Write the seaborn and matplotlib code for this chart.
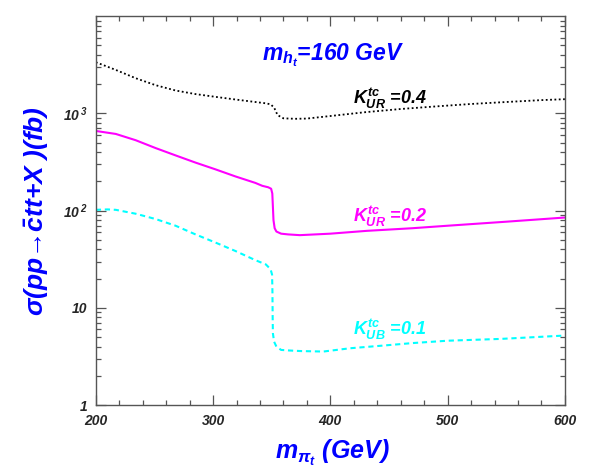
import matplotlib
matplotlib.use("Agg")
import matplotlib.pyplot as plt
import matplotlib.ticker as mticker
import seaborn as sns

# values (x in GeV, sigma in fb)
mpi_04 = [200, 217, 234, 251, 268, 285, 302, 319, 336, 345, 349, 352, 355, 360,
          370, 380, 400, 430, 460, 490, 520, 550, 580, 600]
sig_04 = [3360, 2800, 2300, 1950, 1720, 1580, 1480, 1390, 1310, 1270, 1240, 1150, 960, 890,
          880, 885, 940, 1030, 1110, 1180, 1250, 1310, 1370, 1400]

mpi_02 = [200, 217, 234, 251, 268, 285, 302, 319, 336, 342, 347, 349.5, 350.5, 351,
          351.5, 352.5, 354, 358, 364, 374, 400, 431, 470, 500, 550, 600]
sig_02 = [660, 615, 530, 440, 370, 312, 266, 225, 193, 180, 174, 168, 150, 110,
          80, 66, 61, 58, 57, 56, 58, 62, 66, 70, 77, 85]

mpi_01 = [200, 210, 217, 234, 251, 268, 285, 302, 319, 336, 345, 349, 350.3, 350.6,
          350.8, 351, 352, 354, 358, 365, 375, 394, 417, 445, 470, 500, 545, 580, 600]
sig_01 = [102, 103, 102, 93, 82, 70, 57, 47, 38.5, 31, 28, 25, 22, 15,
          8, 5.5, 4.5, 4.0, 3.7, 3.65, 3.6, 3.56, 3.85, 4.1, 4.35, 4.6, 4.8, 5.05, 5.2]

curve_labels = [r"$K^{tc}_{UR}$ =0.4", r"$K^{tc}_{UR}$ =0.2", r"$K^{tc}_{UB}$ =0.1"]
label_y = [1236, 76, 5.3]
x_ticks = [200, 300, 400, 500, 600]
y_ticks = [1, 10, 100, 1000]
y_ticklabels = ["1", "10", r"10$^{\,2}$", r"10$^{\,3}$"]

sns.set_style("ticks")
plt.rcParams['font.family'] = ['Liberation Sans', 'DejaVu Sans']
plt.rcParams['font.weight'] = 'bold'
plt.rcParams['font.style'] = 'italic'
plt.rcParams['axes.labelweight'] = 'bold'
plt.rcParams['mathtext.fontset'] = 'custom'
plt.rcParams['mathtext.rm'] = 'Liberation Sans:bold:italic'
plt.rcParams['mathtext.it'] = 'Liberation Sans:bold:italic'
plt.rcParams['mathtext.bf'] = 'Liberation Sans:bold:italic'
plt.rcParams['mathtext.sf'] = 'Liberation Sans:bold:italic'

fig = plt.figure(figsize=(5.99, 4.75), dpi=100)
ax = fig.add_axes([0.160, 0.147, 0.783, 0.819])

sns.lineplot(x=mpi_04, y=sig_04, ax=ax, color='black', lw=1.3, estimator=None,
             sort=False, linestyle=(0, (1, 1.4)))
sns.lineplot(x=mpi_02, y=sig_02, ax=ax, color='#ff00ff', lw=1.5, estimator=None, sort=False)
sns.lineplot(x=mpi_01, y=sig_01, ax=ax, color='#00ffff', lw=1.5, estimator=None,
             sort=False, linestyle=(0, (2.5, 1.8)))

ax.set_yscale('log')
ax.set_xlim(200, 600)
ax.set_ylim(1, 1e4)

ax.set_xticks(x_ticks)
ax.set_xticklabels([str(v) for v in x_ticks])
ax.xaxis.set_minor_locator(mticker.MultipleLocator(20))
ax.set_yticks(y_ticks)
ax.set_yticklabels(y_ticklabels)
ax.yaxis.set_minor_locator(mticker.LogLocator(base=10, subs=range(2, 10), numticks=20))
ax.yaxis.set_minor_formatter(mticker.NullFormatter())

ax.tick_params(which='both', direction='in', top=True, right=True, color='#555555', width=0.9)
ax.tick_params(which='major', length=7.5, labelsize=10)
ax.tick_params(which='minor', length=3.8)
ax.tick_params(axis='y', pad=6)
ax.tick_params(axis='x', pad=6)
for s in ax.spines.values():
    s.set_color('#555555')
    s.set_linewidth(1.0)

for lab, y, c in zip(curve_labels, label_y, ['black', '#ff00ff', '#00ffff']):
    ax.text(419, y, lab, color=c, fontsize=13, ha='left', va='baseline')

ax.text(0.505, 0.887, r"$m_{h_t}$=160 GeV", transform=ax.transAxes, color='#0000ff',
        fontsize=16.5, ha='center', va='baseline')

ax.set_xlabel(r"$m_{\pi_t}$ (GeV)", color='#0000ff', fontsize=18)
ax.xaxis.set_label_coords(0.505, -0.085)
ax.set_ylabel(r"σ(pp→$\bar{c}$tt+X )(fb)", color='#0000ff', fontsize=19)
ax.yaxis.set_label_coords(-0.095, 0.5)

fig.savefig("out.png", dpi=100)
